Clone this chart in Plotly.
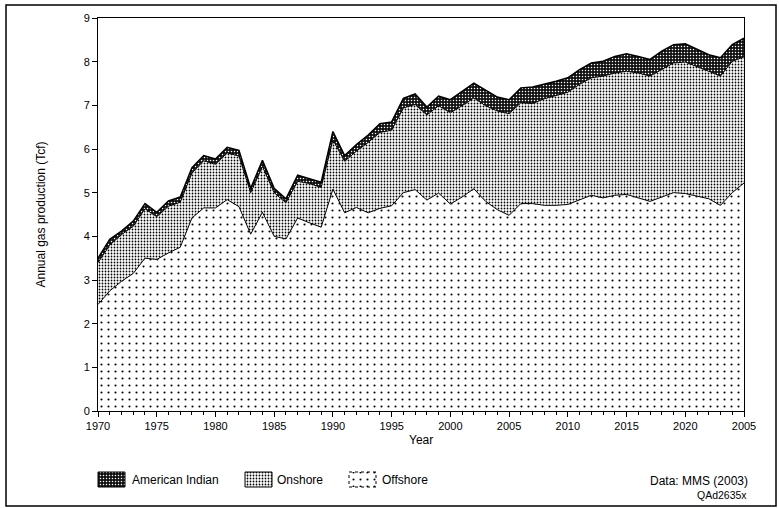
import plotly.graph_objects as go

years = list(range(1970, 2026))

offshore = [2.44, 2.75, 2.97, 3.15, 3.50, 3.47, 3.62, 3.75, 4.42, 4.65,
            4.65, 4.84, 4.68, 4.05, 4.55, 4.00, 3.94, 4.42, 4.31, 4.21,
            5.08, 4.54, 4.66, 4.54, 4.64, 4.70, 5.00, 5.07, 4.83, 4.99,
            4.74, 4.90, 5.09, 4.80, 4.61, 4.48, 4.75, 4.75, 4.71, 4.71,
            4.73, 4.84, 4.94, 4.88, 4.94, 4.96, 4.88, 4.80, 4.90, 5.00,
            4.98, 4.92, 4.86, 4.71, 5.00, 5.22]

onshore = [0.96, 1.05, 1.07, 1.08, 1.13, 0.98, 1.07, 1.03, 1.03, 1.08,
           1.00, 1.07, 1.16, 0.95, 1.05, 1.00, 0.83, 0.84, 0.90, 0.91,
           1.13, 1.18, 1.29, 1.61, 1.74, 1.73, 1.94, 1.95, 1.95, 2.00,
           2.09, 2.09, 2.08, 2.19, 2.26, 2.33, 2.31, 2.29, 2.44, 2.51,
           2.57, 2.64, 2.69, 2.79, 2.80, 2.82, 2.86, 2.87, 2.92, 2.97,
           3.01, 2.97, 2.92, 2.96, 3.01, 2.89]

american_indian = [0.10, 0.13, 0.08, 0.12, 0.12, 0.10, 0.12, 0.12, 0.12, 0.12,
                   0.12, 0.13, 0.13, 0.10, 0.14, 0.10, 0.09, 0.14, 0.11, 0.12,
                   0.19, 0.13, 0.15, 0.17, 0.20, 0.19, 0.22, 0.24, 0.18, 0.22,
                   0.30, 0.33, 0.34, 0.36, 0.32, 0.32, 0.34, 0.38, 0.33, 0.33,
                   0.33, 0.34, 0.34, 0.34, 0.38, 0.40, 0.38, 0.38, 0.42, 0.42,
                   0.42, 0.39, 0.38, 0.42, 0.38, 0.43]

tick_years = [1970, 1975, 1980, 1985, 1990, 1995, 2000, 2005, 2010, 2015, 2020, 2025]
tick_labels = ["1970", "1975", "1980", "1985", "1990", "1995", "2000", "2005",
               "2010", "2015", "2020", "2005"]

series_names = ["American Indian", "Onshore", "Offshore"]

FONT = "Liberation Sans, Arial, sans-serif"
W, H = 779, 508

patterns = {
    "Offshore": dict(shape=".", fgcolor="black", bgcolor="white", size=7,
                     solidity=0.07, fillmode="replace"),
    "Onshore": dict(shape=".", fgcolor="black", bgcolor="white", size=3,
                    solidity=0.28, fillmode="replace"),
    "American Indian": dict(shape=".", fgcolor="white", bgcolor="#111111", size=3,
                            solidity=0.2, fillmode="replace"),
}

fig = go.Figure()

fig.add_trace(go.Scatter(
    x=years, y=offshore, name="Offshore", stackgroup="one", mode="lines",
    line=dict(color="black", width=1), fillcolor="white",
    fillpattern=patterns["Offshore"], showlegend=False, hoverinfo="skip",
))
fig.add_trace(go.Scatter(
    x=years, y=onshore, name="Onshore", stackgroup="one", mode="lines",
    line=dict(color="black", width=1), fillcolor="white",
    fillpattern=patterns["Onshore"], showlegend=False, hoverinfo="skip",
))
fig.add_trace(go.Scatter(
    x=years, y=american_indian, name="American Indian", stackgroup="one", mode="lines",
    line=dict(color="black", width=1.5), fillcolor="black",
    fillpattern=patterns["American Indian"], showlegend=False, hoverinfo="skip",
))

# legend swatches drawn on an overlay axis measured in pixels
swatch_left = [98, 245, 349]
swatch_w, swatch_top, swatch_bot = 27, 472, 487
text_left = [130, 275, 380]
for name, sx in zip(series_names, swatch_left):
    fig.add_trace(go.Scatter(
        x=[sx, sx + swatch_w, sx + swatch_w, sx, sx],
        y=[swatch_top, swatch_top, swatch_bot, swatch_bot, swatch_top],
        xaxis="x2", yaxis="y2", mode="lines", fill="toself",
        line=dict(color="black", width=1,
                  dash="dot" if name == "Offshore" else "solid"),
        fillcolor="white", fillpattern=patterns[name],
        showlegend=False, hoverinfo="skip",
    ))

annotations = [
    dict(text="Annual gas production (Tcf)", x=40 / W, y=1 - 214.5 / H, textangle=-90,
         xanchor="center", yanchor="middle", font=dict(size=12)),
    dict(text="Year", x=421 / W, y=1 - 440 / H, xanchor="center", yanchor="middle",
         font=dict(size=12)),
    dict(text="Data: MMS (2003)", x=750 / W, y=1 - 481 / H, xanchor="right",
         yanchor="middle", font=dict(size=12)),
    dict(text="QAd2635x", x=749 / W, y=1 - 494.5 / H, xanchor="right",
         yanchor="middle", font=dict(size=10.5)),
]
for name, tx in zip(series_names, text_left):
    annotations.append(dict(text=name, x=tx / W, y=1 - 479.5 / H, xanchor="left",
                            yanchor="middle", font=dict(size=12)))
for a in annotations:
    a.update(xref="paper", yref="paper", showarrow=False)

fig.update_layout(
    width=W, height=H,
    margin=dict(l=0, r=0, t=0, b=0, autoexpand=False),
    paper_bgcolor="white", plot_bgcolor="rgba(0,0,0,0)",
    font=dict(family=FONT, size=11, color="black"),
    showlegend=False,
    xaxis=dict(domain=[98 / W, 744 / W], anchor="y",
               range=[1970, 2025], tickvals=tick_years, ticktext=tick_labels,
               ticks="outside", ticklen=5, tickcolor="black",
               showline=True, linecolor="black", linewidth=1, mirror=True,
               showgrid=False, zeroline=False, fixedrange=True,
               minor=dict(dtick=1, ticks="outside", ticklen=3, tickcolor="black")),
    yaxis=dict(domain=[1 - 411 / H, 1 - 18 / H], anchor="x",
               range=[0, 9], dtick=1, ticks="outside", ticklen=5, tickcolor="black",
               showline=True, linecolor="black", linewidth=1, mirror=True,
               showgrid=False, zeroline=False, fixedrange=True),
    xaxis2=dict(domain=[0, 1], anchor="y2", range=[0, W], visible=False,
                fixedrange=True),
    yaxis2=dict(domain=[0, 1], anchor="x2", range=[H, 0], visible=False,
                fixedrange=True),
    shapes=[dict(type="rect", xref="paper", yref="paper",
                 x0=6 / W, x1=776 / W, y0=1 - 506 / H, y1=1 - 5 / H,
                 line=dict(color="black", width=1.5))],
    annotations=annotations,
)

fig.write_html("out.html", config={"displayModeBar": False},
               post_script="document.body.style.margin='0';document.body.style.overflow='hidden';")
